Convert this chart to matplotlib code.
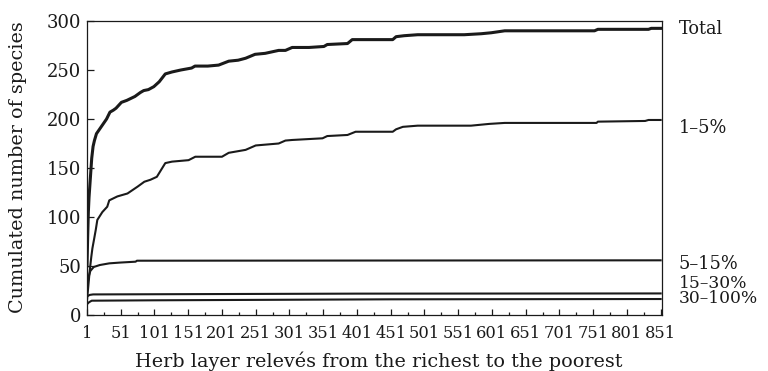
import matplotlib
matplotlib.use("Agg")
import matplotlib.pyplot as plt
from matplotlib.ticker import FixedLocator

# ---- data ----
total_x = [1, 2, 3, 4, 5.5, 8, 10, 12, 15, 18, 22, 26, 30, 35, 40, 44, 52, 60, 72, 80,
           85, 92, 100, 108, 117, 122, 127, 140, 156, 161, 180, 196, 211, 225, 236, 250, 265, 285, 295, 305,
           330, 352, 357, 387, 394, 454, 459, 471, 491, 560, 585, 600, 620, 753, 758, 833, 837, 851]
total_y = [50, 80, 105, 120, 135, 160, 172, 178, 185, 188, 192, 196, 200, 207, 209, 211, 217, 219, 223, 227,
           229, 230, 233, 238, 246, 247, 248, 250, 252, 254, 254, 255, 259, 260, 262, 266, 267, 270, 270, 273,
           273, 274, 276, 277, 281, 281, 284, 285, 286, 286, 287, 288, 290, 290, 291.5, 291.5, 292.5, 292.5]

c1_5_x = [1, 3, 5, 7.4, 9, 11.4, 14, 16.3, 20, 23.7, 31, 34, 46, 61, 76, 86, 95, 104.5, 117, 127,
          151.5, 161.5, 201, 211, 236, 251, 285, 295, 305, 350, 357, 387, 399, 454, 459, 469, 491, 570, 597, 620,
          756, 758, 828, 833, 851]
c1_5_y = [15, 30, 45, 59.5, 68, 77, 87, 97, 101, 105, 110.5, 117, 121, 124, 131, 136, 138, 141, 155, 156.5,
          158, 161.5, 161.5, 165.5, 168.5, 173, 175, 178, 178.6, 180.3, 182.6, 183.7, 187, 187, 189.5, 192, 193.2, 193.2, 195, 196,
          196, 197.3, 198, 199, 199]

c5_15_x = [1, 3, 6, 11, 20, 34, 50, 73, 75, 851]
c5_15_y = [25, 38, 45, 49, 51, 52.7, 53.5, 54.4, 55.4, 55.8]

c15_30_x = [1, 5, 10, 400, 851]
c15_30_y = [19, 20.5, 21, 21.8, 22]

c30_100_x = [1, 4, 8, 100, 450, 851]
c30_100_y = [11, 13, 14.6, 15, 16, 16.3]

series_labels = ["Total", "1\u20135%", "5\u201315%", "15\u201330%", "30\u2013100%"]
label_y = [286.4, 186, 46.6, 27.5, 12.3]

xticks_major = list(range(1, 852, 50))
xticks_minor = list(range(26, 852, 50))
yticks = [0, 50, 100, 150, 200, 250, 300]

xlabel = "Herb layer relev\u00e9s from the richest to the poorest"
ylabel = "Cumulated number of species"

# ---- figure ----
plt.rcParams['font.family'] = ['DejaVu Serif']
ink = '#1a1a1a'
W, H = 768, 371
fig = plt.figure(figsize=(W / 100, H / 100), dpi=100)
ax = fig.add_axes([87 / W, (H - 315) / H, (662 - 87) / W, (315 - 21) / H])

ax.plot(total_x, total_y, color=ink, lw=2.2, solid_joinstyle='round')
ax.plot(c1_5_x, c1_5_y, color=ink, lw=1.5)
ax.plot(c5_15_x, c5_15_y, color=ink, lw=1.5)
ax.plot(c15_30_x, c15_30_y, color=ink, lw=1.5)
ax.plot(c30_100_x, c30_100_y, color=ink, lw=1.5)

ax.set_xlim(1, 853)
ax.set_ylim(0, 300)
ax.xaxis.set_major_locator(FixedLocator(xticks_major))
ax.xaxis.set_minor_locator(FixedLocator(xticks_minor))
ax.yaxis.set_major_locator(FixedLocator(yticks))
ax.tick_params(axis='x', which='major', direction='in', length=4, width=0.9, labelsize=11.7, pad=7, colors=ink)
ax.tick_params(axis='x', which='minor', direction='in', length=2.2, width=0.9, colors=ink)
ax.tick_params(axis='y', which='major', direction='in', length=5, width=0.9, labelsize=13, pad=4, colors=ink)
for s in ax.spines.values():
    s.set_linewidth(0.9)
    s.set_color(ink)

tr = ax.get_yaxis_transform()
for lab, yy in zip(series_labels, label_y):
    ax.text((679 - 87) / (662 - 87), yy, lab, transform=tr, ha='left', va='baseline',
            fontsize=12.8 if lab in ("Total", "1\u20135%", "5\u201315%") else 12.3,
            color=ink, clip_on=False)

fig.text(135 / W, (H - 367) / H, xlabel, ha='left', va='baseline', fontsize=13.8, color=ink)
fig.text(18 / W, 1 - 167 / H, ylabel, rotation=90, ha='center', va='center', fontsize=13.8, color=ink)

fig.savefig("out.png", dpi=100)
